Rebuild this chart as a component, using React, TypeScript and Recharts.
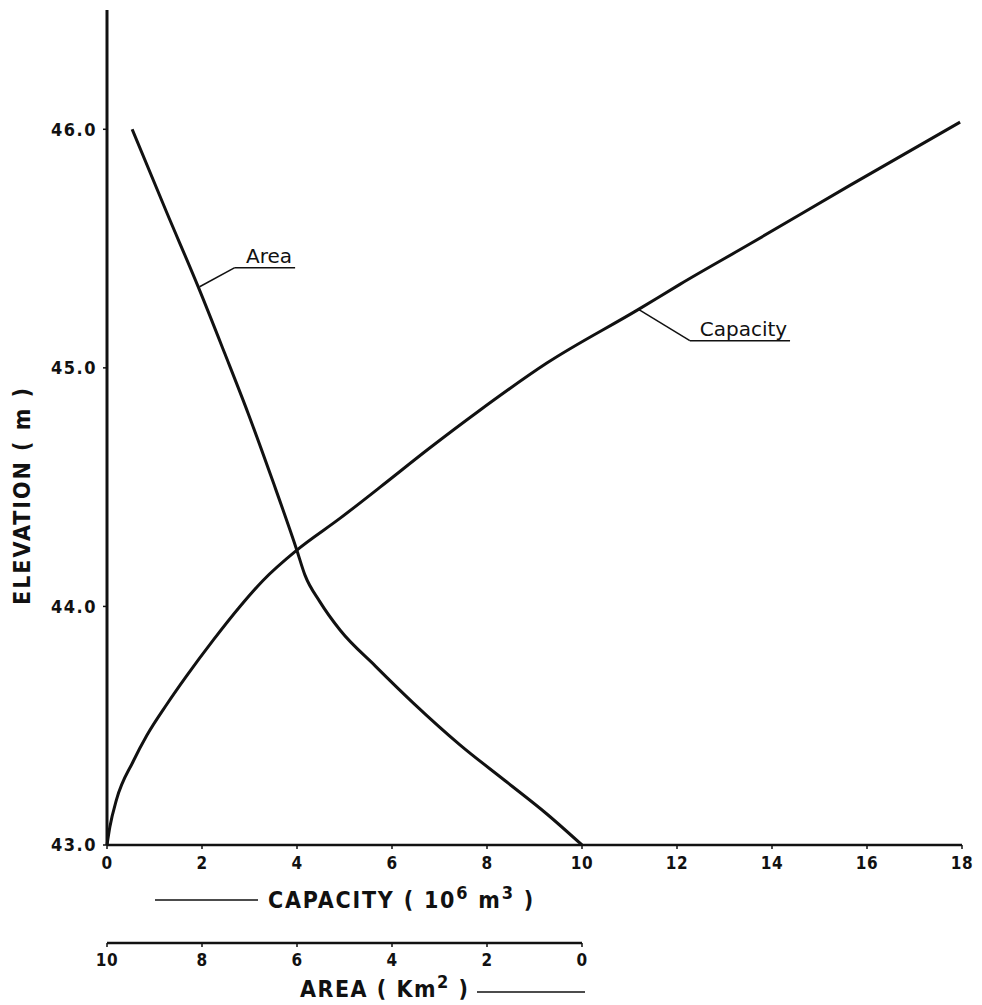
import { LineChart, Line, XAxis, YAxis, ReferenceLine, ReferenceDot } from "recharts";

// capacity curve: storage (10^6 m3) against elevation (m)
const CAPACITY = [0, 0.06, 0.2, 0.55, 0.84, 1.26, 1.68, 2.24, 2.8, 3.29, 3.99, 4.91, 5.75, 6.8, 7.8, 9.26, 11.19, 12.06, 13.54, 15.64, 17.96];
const CAPACITY_ELEV = [43.0, 43.075, 43.19, 43.35, 43.46, 43.59, 43.71, 43.86, 44.0, 44.11, 44.235, 44.37, 44.5, 44.665, 44.815, 45.02, 45.245, 45.35, 45.52, 45.765, 46.03];

// area curve: surface area (km2) against elevation (m)
const AREA = [9.47, 8.74, 8.06, 7.52, 7.03, 6.5, 6.01, 5.83, 5.52, 5.09, 4.35, 3.55, 2.57, 1.59, 0.74, 0];
const AREA_ELEV = [46.0, 45.65, 45.33, 45.06, 44.81, 44.52, 44.24, 44.13, 44.02, 43.9, 43.75, 43.595, 43.42, 43.265, 43.13, 43.0];

const ELEV_TICKS = [43, 44, 45, 46];
const CAPACITY_TICKS = [0, 2, 4, 6, 8, 10, 12, 14, 16, 18];
const AREA_TICKS = [10, 8, 6, 4, 2, 0];

// leader lines for the curve names, in capacity / elevation units
const AREA_LEADER = [{ x: 1.95, y: 45.34 }, { x: 2.69, y: 45.42 }, { x: 3.96, y: 45.42 }];
const CAPACITY_LEADER = [{ x: 11.19, y: 45.245 }, { x: 12.27, y: 45.114 }, { x: 14.38, y: 45.114 }];

const capData = CAPACITY.map((c, i) => ({ capacity: c, elevation: CAPACITY_ELEV[i] }));
const areaData = AREA.map((a, i) => ({ area: a, elevation: AREA_ELEV[i] }));

const CAP_AXIS = 0;
const AREA_AXIS = 1;
const PLOT_WIDTH = 855;

const INK = "#111";
const TITLE_FONT = "'DejaVu Sans Condensed', 'DejaVu Sans', sans-serif";
const NOTE_FONT = "'DejaVu Sans', sans-serif";
const tickStyle = { fontSize: 17, fontWeight: 700, fill: INK, fontFamily: TITLE_FONT, letterSpacing: 0.5 };
const yTickStyle = { ...tickStyle, fontSize: 18, letterSpacing: 1.5 };

// eslint-disable-next-line @typescript-eslint/no-explicit-any
function ElevationTitle({ viewBox }: any) {
  const cx = viewBox.x + 14;
  const cy = viewBox.y + viewBox.height / 2 + 68;
  return (
    <text x={cx} y={cy} transform={`rotate(-90, ${cx}, ${cy})`} textAnchor="middle" dominantBaseline="central"
      fontSize={23} fontWeight={700} fill={INK} fontFamily={TITLE_FONT} letterSpacing={2}>
      ELEVATION ( m )
    </text>
  );
}

// eslint-disable-next-line @typescript-eslint/no-explicit-any
function CapacityTitle({ viewBox }: any) {
  const { x, y } = viewBox;
  return (
    <g>
      <line x1={x + 48} y1={y + 55} x2={x + 151} y2={y + 55} stroke={INK} strokeWidth={1.5} />
      <text x={x + 161} y={y + 63} fontSize={23} fontWeight={700} fill={INK} fontFamily={TITLE_FONT} letterSpacing={1.8}>
        CAPACITY ( 10<tspan dy={-9} fontSize={18}>6</tspan>
        <tspan dy={9}> m</tspan><tspan dy={-9} fontSize={18}>3</tspan><tspan dy={9}> )</tspan>
      </text>
    </g>
  );
}

// eslint-disable-next-line @typescript-eslint/no-explicit-any
function AreaTitle({ viewBox }: any) {
  const { x, y } = viewBox;
  return (
    <g>
      <text x={x + 193} y={y + 54} fontSize={23} fontWeight={700} fill={INK} fontFamily={TITLE_FONT} letterSpacing={1.5}>
        AREA ( Km<tspan dy={-9} fontSize={18}>2</tspan><tspan dy={9}> )</tspan>
      </text>
      <line x1={x + 370} y1={y + 49} x2={x + 478} y2={y + 49} stroke={INK} strokeWidth={1.5} />
    </g>
  );
}

function Leader({ pts }: { pts: { x: number; y: number }[] }) {
  return (
    <>
      {pts.slice(1).map((p, i) => (
        <ReferenceLine key={i} xAxisId={CAP_AXIS} segment={[pts[i], p]} stroke={INK} strokeWidth={1.5} ifOverflow="visible" />
      ))}
    </>
  );
}

export default function App() {
  return (
    <div style={{ width: 966, height: 995, background: "#fff" }}>
      <LineChart width={966} height={995} margin={{ top: 2, right: 12, bottom: 0, left: 0 }}>
        <YAxis
          type="number"
          domain={[43, 46.5]}
          ticks={ELEV_TICKS}
          tickFormatter={(v: number) => v.toFixed(1)}
          width={99}
          tickSize={4}
          tickMargin={6}
          tick={yTickStyle}
          axisLine={{ stroke: INK, strokeWidth: 3 }}
          tickLine={{ stroke: INK, strokeWidth: 1.5 }}
          label={(p: any) => <ElevationTitle {...p} />}
        />
        <XAxis
          xAxisId={CAP_AXIS}
          dataKey="capacity"
          type="number"
          domain={[0, 18]}
          ticks={CAPACITY_TICKS}
          height={98}
          tickSize={4}
          tickMargin={8}
          tick={tickStyle}
          axisLine={{ stroke: INK, strokeWidth: 2.5 }}
          tickLine={{ stroke: INK, strokeWidth: 1.5 }}
          label={(p: any) => <CapacityTitle {...p} />}
        />
        <XAxis
          xAxisId={AREA_AXIS}
          dataKey="area"
          type="number"
          domain={[-8, 10]}
          reversed
          ticks={AREA_TICKS}
          height={60}
          tickSize={4}
          tickMargin={7}
          tick={tickStyle}
          axisLine={{ stroke: INK, strokeWidth: 2.5, strokeDasharray: `${(PLOT_WIDTH * 10) / 18} 2000` }}
          tickLine={{ stroke: INK, strokeWidth: 1.5 }}
          label={(p: any) => <AreaTitle {...p} />}
        />
        <Line xAxisId={CAP_AXIS} data={capData} dataKey="elevation" type="monotone" stroke={INK} strokeWidth={3}
          dot={false} activeDot={false} isAnimationActive={false} />
        <Line xAxisId={AREA_AXIS} data={areaData} dataKey="elevation" type="monotone" stroke={INK} strokeWidth={3}
          dot={false} activeDot={false} isAnimationActive={false} />
        <Leader pts={AREA_LEADER} />
        <Leader pts={CAPACITY_LEADER} />
        <ReferenceDot xAxisId={CAP_AXIS} x={3.41} y={45.42} r={0} ifOverflow="visible"
          label={{ value: "Area", position: "top", offset: 5, fontSize: 20, fill: INK, fontFamily: NOTE_FONT }} />
        <ReferenceDot xAxisId={CAP_AXIS} x={13.4} y={45.114} r={0} ifOverflow="visible"
          label={{ value: "Capacity", position: "top", offset: 5, fontSize: 20, fill: INK, fontFamily: NOTE_FONT }} />
      </LineChart>
    </div>
  );
}
